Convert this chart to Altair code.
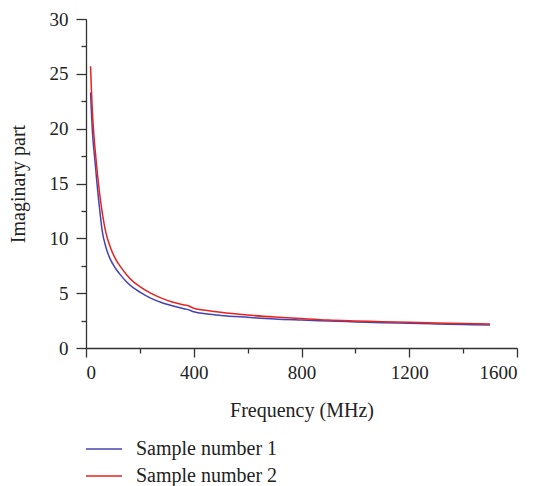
import altair as alt
import pandas as pd

freq = [17, 20, 25, 30, 35, 40, 50, 60, 75, 90, 110, 130, 150, 175, 200, 240,
        280, 320, 360, 380, 400, 450, 500, 600, 700, 800, 900, 1000, 1100,
        1200, 1300, 1400, 1500]
sample1 = [23.3, 21.6, 19.3, 17.9, 16.6, 15.2, 12.8, 10.7, 9.1, 8.1, 7.25, 6.6,
           6.05, 5.5, 5.1, 4.55, 4.15, 3.85, 3.6, 3.5, 3.3, 3.1, 2.97, 2.8,
           2.65, 2.55, 2.46, 2.38, 2.3, 2.25, 2.19, 2.14, 2.1]
sample2 = [25.7, 23.6, 21.0, 19.2, 17.8, 16.5, 14.2, 12.4, 10.4, 9.2, 8.1,
           7.35, 6.7, 6.05, 5.6, 5.0, 4.55, 4.2, 3.95, 3.85, 3.62, 3.42, 3.25,
           3.0, 2.82, 2.68, 2.55, 2.47, 2.4, 2.34, 2.29, 2.24, 2.19]
series_names = ["Sample number 1", "Sample number 2"]
colors = ["#4343b5", "#e8221e"]

rows = []
for name, vals in zip(series_names, [sample1, sample2]):
    for f, v in zip(freq, vals):
        rows.append({"Frequency": f, "Value": v, "Series": name})
df = pd.DataFrame(rows)

FONT = "Liberation Serif"

x_axis = alt.Axis(
    values=list(range(0, 1601, 200)),
    format="d",
    labelExpr="datum.value % 400 === 0 ? datum.label : ''",
    tickSize={"condition": {"test": "datum.value % 400 === 0", "value": 9}, "value": 5},
    grid=False, domainColor="#333333", tickColor="#333333", domainWidth=1.3, tickWidth=1.3,
    labelFont=FONT, labelFontSize=19, labelColor="#222222", labelPadding=6,
    title="Frequency (MHz)", titleFont=FONT, titleFontSize=20, titleFontWeight="normal",
    titleColor="#222222", titlePadding=18,
)
y_axis = alt.Axis(
    values=[v * 2.5 for v in range(0, 13)],
    labelExpr="datum.value % 5 === 0 ? datum.label : ''",
    tickSize={"condition": {"test": "datum.value % 5 === 0", "value": 10}, "value": 5},
    grid=False, domainColor="#333333", tickColor="#333333", domainWidth=1.3, tickWidth=1.3,
    labelFont=FONT, labelFontSize=19, labelColor="#222222", labelPadding=8,
    title="Imaginary part", titleFont=FONT, titleFontSize=20, titleFontWeight="normal",
    titleColor="#222222", titlePadding=21,
)

chart = alt.Chart(df).mark_line(strokeWidth=1.5, interpolate="monotone").encode(
    x=alt.X("Frequency:Q", scale=alt.Scale(domain=[0, 1600], nice=False), axis=x_axis),
    y=alt.Y("Value:Q", scale=alt.Scale(domain=[0, 30], nice=False), axis=y_axis),
    color=alt.Color(
        "Series:N",
        scale=alt.Scale(domain=series_names, range=colors),
        legend=alt.Legend(
            title=None, orient="none", legendX=8, legendY=420,
            symbolType="M-2,0H2", symbolSize=324, symbolStrokeWidth=1.5,
            labelFont=FONT, labelFontSize=20, labelColor="#222222",
            labelOffset=22, rowPadding=7,
        ),
    ),
).properties(
    width=431, height=329,
    autosize=alt.AutoSizeParams(type="none"),
    padding={"left": 86, "top": 19, "right": 20, "bottom": 138},
).configure_view(stroke=None)

chart.save("out.html", embed_options={"renderer": "svg", "actions": False})
